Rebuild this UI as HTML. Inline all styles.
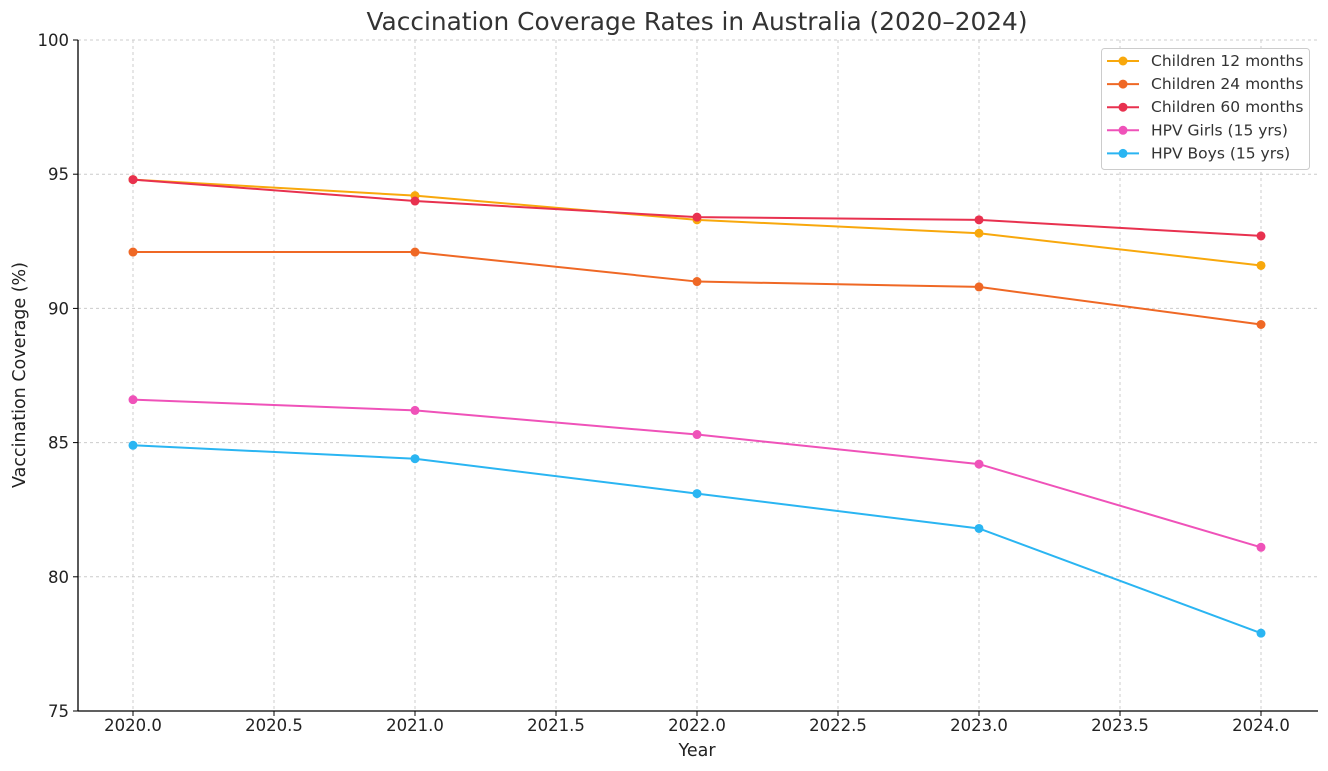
<!DOCTYPE html>
<html><head><meta charset="utf-8"><style>
body{margin:0;background:#fff;}
svg{display:block;font-family:"DejaVu Sans","Liberation Sans",sans-serif;}
</style></head><body>
<svg id="chart" width="1328" height="771"></svg>
<script>
const years=[2020,2021,2022,2023,2024];
const xTicks=[2020.0,2020.5,2021.0,2021.5,2022.0,2022.5,2023.0,2023.5,2024.0];
const yTicks=[75,80,85,90,95,100];
const seriesNames=["Children 12 months","Children 24 months","Children 60 months","HPV Girls (15 yrs)","HPV Boys (15 yrs)"];
const s12=[94.8,94.2,93.3,92.8,91.6];
const s24=[92.1,92.1,91.0,90.8,89.4];
const s60=[94.8,94.0,93.4,93.3,92.7];
const girls=[86.6,86.2,85.3,84.2,81.1];
const boys=[84.9,84.4,83.1,81.8,77.9];
const colors=["#f8a80c","#ef6825","#e8314f","#ef52b9","#2ab5f2"];
const allSeries=[s12,s24,s60,girls,boys];
const NS="http://www.w3.org/2000/svg";
const svg=document.getElementById('chart');
const X=v=>133+(v-2020)*282;
const Y=v=>711-(v-75)*(671/25);
function el(t,a,p){const e=document.createElementNS(NS,t);for(const k in a)e.setAttribute(k,a[k]);(p||svg).appendChild(e);return e;}
xTicks.forEach(t=>{const g=el('line',{x1:X(t),x2:X(t),y1:40,y2:711,stroke:'#ccc','stroke-dasharray':'3,3','stroke-width':1});


el('line',{x1:X(t),x2:X(t),y1:711,y2:716,stroke:'#000'});
const tx=el('text',{x:X(t),y:731,'text-anchor':'middle','font-size':16.5,fill:'#222'});tx.textContent=t.toFixed(1);

});
yTicks.forEach(t=>{const g=el('line',{x1:78,x2:1318,y1:Y(t),y2:Y(t),stroke:'#ccc','stroke-dasharray':'3,3','stroke-width':1});


el('line',{x1:73,x2:78,y1:Y(t),y2:Y(t),stroke:'#000'});
const tx=el('text',{x:69,y:Y(t)+6,'text-anchor':'end','font-size':16.5,fill:'#222'});tx.textContent=t;

});
el('line',{x1:78,x2:78,y1:40,y2:711,stroke:'#000','stroke-width':1.3});
el('line',{x1:78,x2:1318,y1:711,y2:711,stroke:'#000','stroke-width':1.3});
allSeries.forEach((s,i)=>{
const g=el('g',{});


el('polyline',{points:s.map((v,j)=>X(years[j])+','+Y(v)).join(' '),fill:'none',stroke:colors[i],'stroke-width':2},g);
s.forEach((v,j)=>{const c=el('circle',{cx:X(years[j]),cy:Y(v),r:4.5,fill:colors[i]},g);

});
});
let t=el('text',{x:697,y:30,'text-anchor':'middle','font-size':24.8,fill:'#333'});t.textContent="Vaccination Coverage Rates in Australia (2020–2024)";


t=el('text',{x:697,y:756,'text-anchor':'middle','font-size':17.5,fill:'#222'});t.textContent="Year";


t=el('text',{x:25,y:375,'text-anchor':'middle','font-size':17.5,fill:'#222',transform:'rotate(-90 25 375)'});t.textContent="Vaccination Coverage (%)";


const lg=el('g',{});


el('rect',{x:1101.5,y:48.5,width:208,height:121,rx:3,fill:'#fff',stroke:'#ccc'},lg);
seriesNames.forEach((n,i)=>{const y=61+i*23.1;
const e=el('g',{},lg);


el('line',{x1:1107,x2:1139,y1:y,y2:y,stroke:colors[i],'stroke-width':2},e);
el('circle',{cx:1123,cy:y,r:4.5,fill:colors[i]},e);
const tx=el('text',{x:1151,y:y+5,'font-size':15.5,fill:'#333'},e);tx.textContent=n;});
</script>
</body></html>
